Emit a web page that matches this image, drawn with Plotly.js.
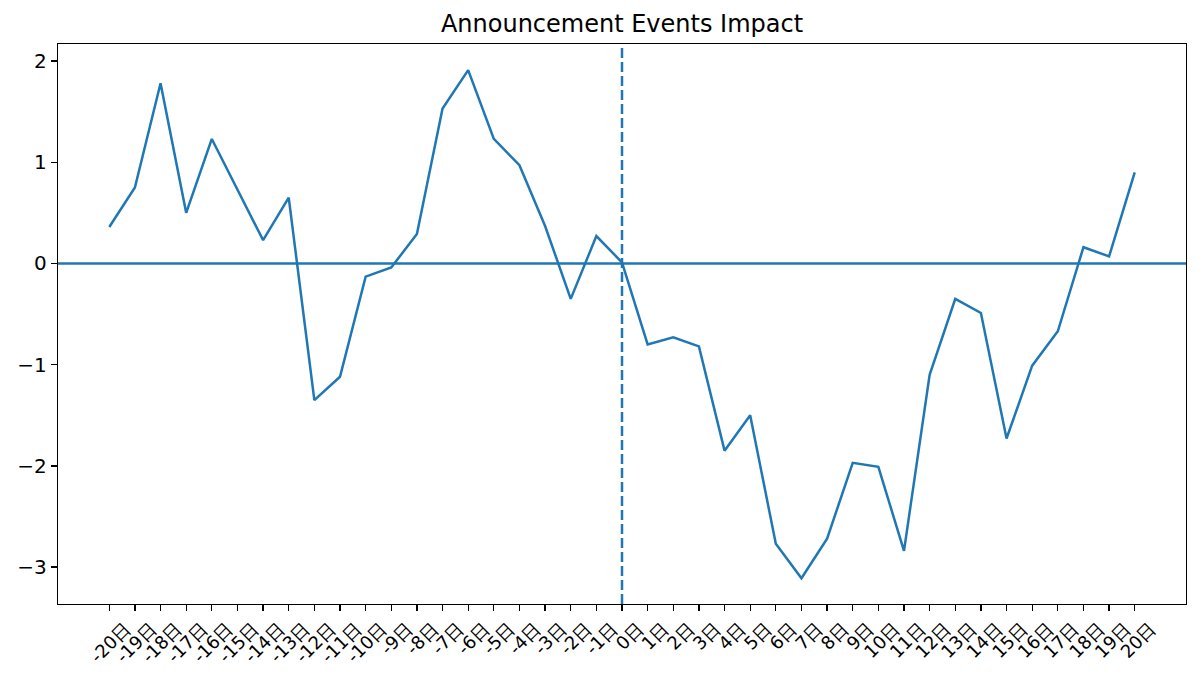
<!DOCTYPE html>
<html>
<head>
<meta charset="utf-8">
<script src="https://cdn.plot.ly/plotly-3.0.1.min.js"></script>
<style>html,body{margin:0;padding:0;background:#fff;}#chart{width:1200px;height:680px;}</style>
</head>
<body>
<div id="chart"></div>
<script>
const days = [-20,-19,-18,-17,-16,-15,-14,-13,-12,-11,-10,-9,-8,-7,-6,-5,-4,-3,-2,-1,0,1,2,3,4,5,6,7,8,9,10,11,12,13,14,15,16,17,18,19,20];
const tickLabels = days.map(d => d + "日");
const impact = [0.36,0.75,1.78,0.50,1.23,0.73,0.23,0.65,-1.35,-1.12,-0.13,-0.04,0.29,1.53,1.91,1.23,0.97,0.37,-0.35,0.27,0.01,-0.80,-0.73,-0.82,-1.85,-1.50,-2.77,-3.11,-2.72,-1.97,-2.01,-2.84,-1.10,-0.35,-0.49,-1.73,-1.01,-0.67,0.16,0.07,0.90];
const yTicks = [-3,-2,-1,0,1,2];
const eventDay = 0;
const baseline = 0;

const color = '#1f77b4';
const data = [{
  x: days, y: impact, type: 'scatter', mode: 'lines',
  line: {color: color, width: 2.5}, hoverinfo: 'x+y'
}];
const layout = {
  width: 1200, height: 680,
  margin: {l: 58, r: 14, t: 44, b: 76},
  paper_bgcolor: '#fff', plot_bgcolor: '#fff',
  font: {family: 'DejaVu Sans, sans-serif', size: 19, color: '#000'},
  showlegend: false,
  title: {text: 'Announcement Events Impact', font: {size: 24, color: '#000'},
    x: 0.5, xref: 'paper', xanchor: 'center', y: 1 - 24/680, yref: 'container', yanchor: 'middle'},
  xaxis: {
    range: [-22, 22], tickmode: 'array', tickvals: days, ticktext: tickLabels,
    tickangle: -45, ticks: 'outside', ticklen: 6, tickwidth: 1.3, tickcolor: '#000',
    showline: true, linecolor: '#000', linewidth: 1.3, mirror: true,
    showgrid: false, zeroline: false, ticklabelshift: 16, ticklabelstandoff: 0,
    tickfont: {size: 18}
  },
  yaxis: {
    range: [-3.365, 2.168], tickmode: 'array', tickvals: yTicks,
    ticks: 'outside', ticklen: 6, tickwidth: 1.3, tickcolor: '#000',
    showline: true, linecolor: '#000', linewidth: 1.3, mirror: true,
    showgrid: false, zeroline: false, tickfont: {size: 20}
  },
  shapes: [
    {type: 'line', xref: 'paper', x0: 0, x1: 1, yref: 'y', y0: baseline, y1: baseline,
     line: {color: color, width: 2.5}},
    {type: 'line', xref: 'x', x0: eventDay, x1: eventDay, yref: 'paper', y0: 0, y1: 1,
     line: {color: color, width: 2.5, dash: '10px,4px'}}
  ]
};
Plotly.newPlot('chart', data, layout, {displayModeBar: false, staticPlot: true});
</script>
</body>
</html>
